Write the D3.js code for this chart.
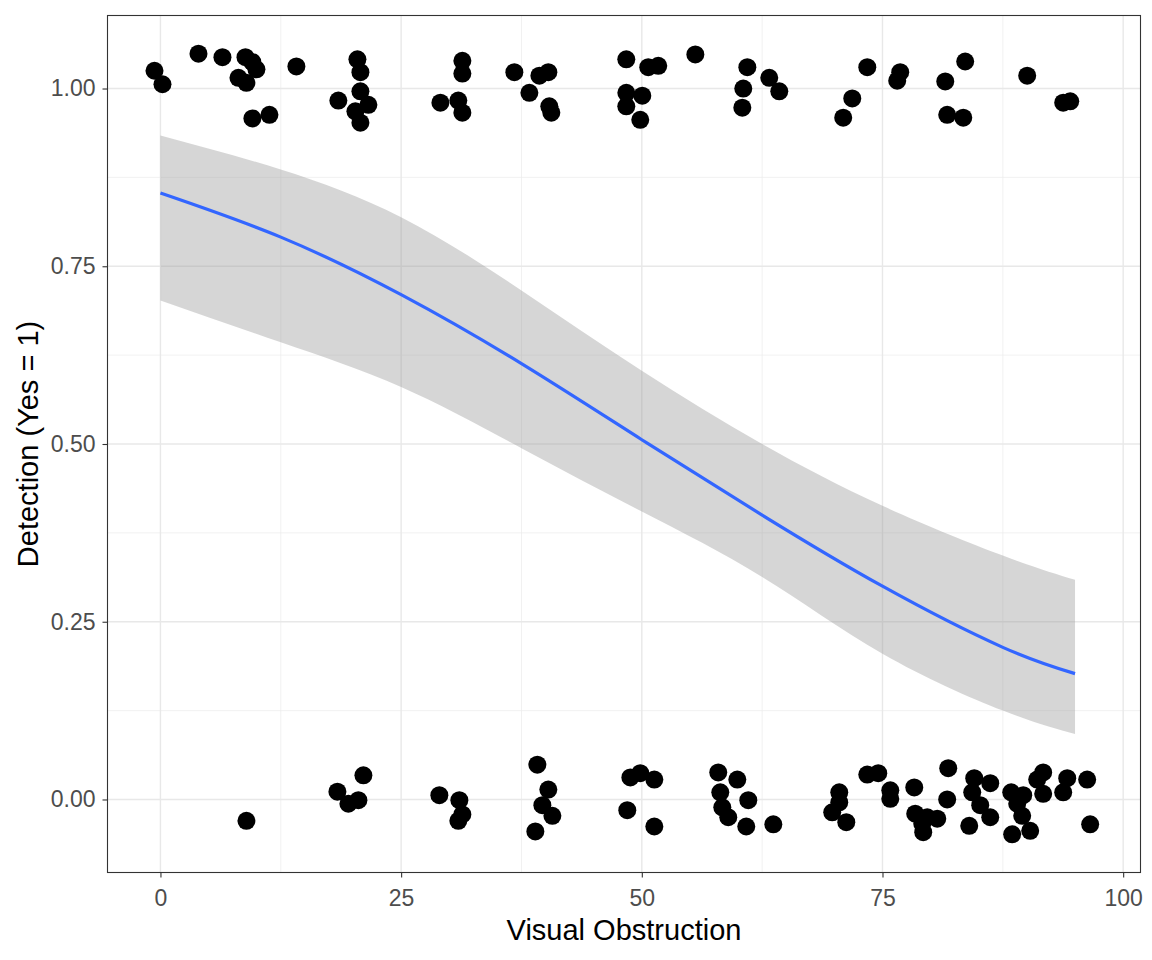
<!DOCTYPE html>
<html><head><meta charset="utf-8">
<script src="https://cdn.jsdelivr.net/npm/d3@7"></script>
<style>body{margin:0;background:#fff;} text{font-family:"Liberation Sans",Arial,sans-serif;}</style>
</head><body><svg id="c" width="1152" height="960"></svg>
<script>
// Jittered observations: detected (y ~ 1)
const detX = [-0.62,0.21,3.95,6.44,8.83,9.55,9.97,8.10,8.93,9.55,11.32,14.12,18.48,20.46,20.77,20.77,21.6,20.25,20.77,31.36,31.36,29.08,30.94,31.36,36.76,39.36,40.29,38.32,40.39,40.6,48.39,50.67,51.71,48.39,50.05,48.39,49.84,55.56,60.96,60.54,60.44,63.24,64.28,73.42,71.86,70.92,76.84,76.53,81.52,83.59,81.72,83.39,90.03,93.77,94.50];
const detY = [1.025,1.006,1.049,1.044,1.044,1.037,1.027,1.015,1.008,0.958,0.963,1.031,0.983,1.041,1.023,0.996,0.977,0.968,0.952,1.039,1.021,0.980,0.983,0.966,1.023,1.018,1.023,0.994,0.975,0.966,1.041,1.030,1.032,0.994,0.990,0.975,0.956,1.048,1.030,1.000,0.973,1.015,0.996,1.030,0.986,0.959,1.023,1.011,1.010,1.038,0.963,0.959,1.018,0.980,0.982];
// Jittered observations: not detected (y ~ 0)
const nodX = [8.93,18.38,21.08,19.52,20.56,28.97,31.05,30.94,31.36,39.15,40.29,39.67,40.71,38.94,48.81,49.84,51.30,48.49,51.30,57.94,59.92,58.15,58.36,58.98,61.06,60.85,63.66,70.51,70.51,69.78,71.24,73.42,74.56,75.81,75.81,78.30,78.40,79.65,80.69,79.23,79.13,81.83,81.72,84.01,84.53,86.19,84.32,85.15,86.19,88.37,89.62,88.99,89.51,88.47,90.34,91.69,91.07,91.69,94.19,93.77,96.26,96.57];
const nodY = [-0.030,0.011,0.034,-0.006,-0.001,0.006,-0.001,-0.030,-0.021,0.049,0.014,-0.008,-0.023,-0.045,0.031,0.037,0.028,-0.015,-0.038,0.038,0.028,0.010,-0.011,-0.025,-0.001,-0.038,-0.035,0.010,-0.004,-0.018,-0.032,0.035,0.037,0.013,0.001,0.017,-0.020,-0.025,-0.027,-0.046,-0.034,0.044,0.000,-0.037,0.030,0.023,0.010,-0.008,-0.025,0.010,0.006,-0.006,-0.023,-0.049,-0.044,0.038,0.028,0.008,0.030,0.010,0.028,-0.035];
// Logistic fit and 95% band
const fitX     = [0, 12.5, 25, 37.5, 50, 62.5, 75, 87.5, 95];
const fitY     = [0.853,0.791,0.710,0.613,0.506,0.400,0.300,0.214,0.177];
const fitLower = [0.702,0.643,0.580,0.494,0.405,0.313,0.205,0.125,0.092];
const fitUpper = [0.934,0.886,0.819,0.716,0.603,0.500,0.413,0.343,0.309];
const xTicks = [0,25,50,75,100];
const xMinor = [12.5,37.5,62.5,87.5];
const yTicks = [0,0.25,0.5,0.75,1];
const yMinor = [0.125,0.375,0.625,0.875];

const svg = d3.select("#c");
const L=107.5, R=1140.5, T=15.5, B=872.5;
const x = d3.scaleLinear().domain([-5.5,101.8]).range([L,R]);
const y = d3.scaleLinear().domain([-0.1027,1.1027]).range([B,T]);

const g = svg.append("g");
g.append("rect").attr("x",L).attr("y",T).attr("width",R-L).attr("height",B-T).attr("fill","#fff");
// grid
g.selectAll(".vm").data(xMinor).join("line").attr("x1",d=>x(d)).attr("x2",d=>x(d)).attr("y1",T).attr("y2",B).attr("stroke","#ebebeb").attr("stroke-width",0.7);
g.selectAll(".hm").data(yMinor).join("line").attr("y1",d=>y(d)).attr("y2",d=>y(d)).attr("x1",L).attr("x2",R).attr("stroke","#ebebeb").attr("stroke-width",0.7);
g.selectAll(".vM").data(xTicks).join("line").attr("x1",d=>x(d)).attr("x2",d=>x(d)).attr("y1",T).attr("y2",B).attr("stroke","#e8e8e8").attr("stroke-width",1.4);
g.selectAll(".hM").data(yTicks).join("line").attr("y1",d=>y(d)).attr("y2",d=>y(d)).attr("x1",L).attr("x2",R).attr("stroke","#e8e8e8").attr("stroke-width",1.4);

const band = fitX.map((v,i)=>({x:v,lo:fitLower[i],hi:fitUpper[i],f:fitY[i]}));
g.append("path").datum(band).attr("fill","#999999").attr("fill-opacity",0.4)
  .attr("d",d3.area().x(d=>x(d.x)).y0(d=>y(d.lo)).y1(d=>y(d.hi)).curve(d3.curveNatural));
g.append("path").datum(band).attr("fill","none").attr("stroke","#3366FF").attr("stroke-width",3.2)
  .attr("d",d3.line().x(d=>x(d.x)).y(d=>y(d.f)).curve(d3.curveNatural));

const pts = detX.map((v,i)=>({x:v,y:detY[i]})).concat(nodX.map((v,i)=>({x:v,y:nodY[i]})));
g.selectAll(".pt").data(pts).join("circle").attr("cx",d=>x(d.x)).attr("cy",d=>y(d.y)).attr("r",9).attr("fill","#000");

g.append("rect").attr("x",L).attr("y",T).attr("width",R-L).attr("height",B-T).attr("fill","none").attr("stroke","#333").attr("stroke-width",1.1);

const xa = svg.append("g").attr("transform",`translate(0,${B})`)
  .call(d3.axisBottom(x).tickValues(xTicks).tickFormat(d3.format("d")).tickSize(5).tickPadding(12));
const ya = svg.append("g").attr("transform",`translate(${L},0)`)
  .call(d3.axisLeft(y).tickValues(yTicks).tickFormat(d3.format(".2f")).tickSize(5).tickPadding(7));
[xa,ya].forEach(a=>{
  a.select(".domain").remove();
  a.selectAll(".tick line").attr("stroke","#333").attr("stroke-width",1.1);
  a.selectAll(".tick text").attr("fill","#4d4d4d").style("font-size","23px").style("font-family","'Liberation Sans',Arial,sans-serif");
});
svg.append("text").attr("x",(L+R)/2).attr("y",940).attr("text-anchor","middle").style("font-size","29px").attr("fill","#000").text("Visual Obstruction");
svg.append("text").attr("transform",`translate(38,${(T+B)/2}) rotate(-90)`).attr("text-anchor","middle").style("font-size","29px").attr("fill","#000").text("Detection (Yes = 1)");
</script></body></html>
